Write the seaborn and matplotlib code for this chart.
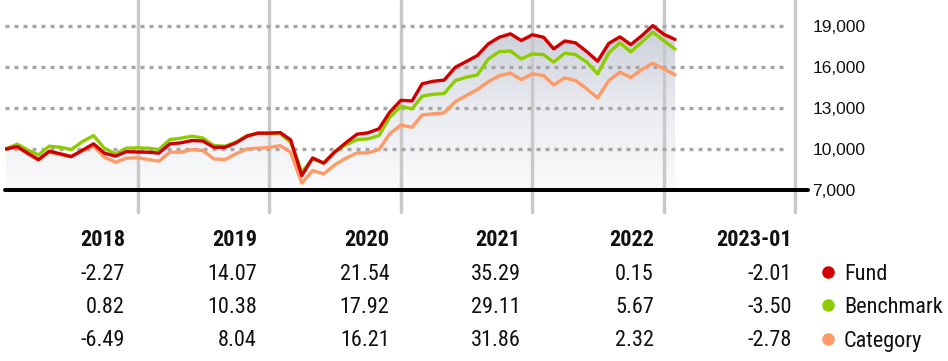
import numpy as np
import pandas as pd
import matplotlib
matplotlib.use("Agg")
import matplotlib.pyplot as plt
import matplotlib.dates as mdates
from matplotlib.lines import Line2D
from matplotlib.colors import LinearSegmentedColormap
from matplotlib import font_manager
import seaborn as sns

# ---------------- data ----------------
dates = pd.date_range("2018-01-01", periods=62, freq="MS") - pd.Timedelta(days=1)

fund = [10000, 10170, 9710, 9220, 9830, 9640, 9440, 9900, 10370, 9690, 9470, 9800,
        9770, 9760, 9690, 10370, 10440, 10610, 10580, 10120, 10120, 10440, 10930, 11150,
        11150, 11190, 10660, 8050, 9340, 8960, 9760, 10440, 11070, 11170, 11460, 12680,
        13550, 13500, 14750, 14940, 15020, 15960, 16370, 16810, 17670, 18150, 18400, 17910,
        18330, 18150, 17300, 17880, 17740, 17100, 16400, 17700, 18180, 17610, 18270, 19000,
        18360, 17990]

benchmark = [10000, 10350, 9940, 9560, 10200, 10120, 9950, 10530, 10970, 10050, 9640, 10050,
             10080, 10050, 9950, 10680, 10780, 10930, 10800, 10240, 10200, 10490, 10970, 11150,
             11130, 11100, 10490, 8300, 9270, 8980, 9800, 10290, 10680, 10730, 10970, 12310,
             13120, 12920, 13850, 13990, 14040, 14990, 15230, 15400, 16570, 17100, 17150, 16570,
             16940, 16880, 16330, 16990, 16880, 16330, 15480, 17010, 17750, 17080, 17810, 18520,
             17900, 17280]

category = [10000, 10130, 9660, 9180, 9760, 9580, 9430, 9850, 10200, 9390, 9030, 9320,
            9350, 9220, 9100, 9760, 9760, 9950, 9880, 9270, 9220, 9640, 10000, 10050,
            10100, 10240, 9760, 7500, 8420, 8180, 8830, 9320, 9710, 9710, 9950, 11100,
            11740, 11580, 12480, 12560, 12630, 13450, 13890, 14330, 14910, 15350, 15530, 15060,
            15480, 15350, 14670, 15180, 14990, 14380, 13720, 14990, 15600, 15210, 15800, 16260,
            15840, 15400]

y_ticks = [7000, 10000, 13000, 16000, 19000]
year_lines = ["2018-12-31", "2019-12-31", "2020-12-31", "2021-12-31", "2022-12-31", "2023-12-31"]

years = ["2018", "2019", "2020", "2021", "2022", "2023-01"]
fund_ret = [-2.27, 14.07, 21.54, 35.29, 0.15, -2.01]
bench_ret = [0.82, 10.38, 17.92, 29.11, 5.67, -3.50]
cat_ret = [-6.49, 8.04, 16.21, 31.86, 2.32, -2.78]
series_names = ["Fund", "Benchmark", "Category"]
colors = {"Fund": "#d00000", "Benchmark": "#8dcc00", "Category": "#ff9a66"}

# ---------------- fonts ----------------
available = {f.name for f in font_manager.fontManager.ttflist}
narrow = None
for cand in ["Liberation Sans Narrow", "Roboto Condensed", "Open Sans Condensed"]:
    if cand in available:
        narrow = cand
        break
narrow_kw = {"family": narrow} if narrow else {"family": "DejaVu Sans", "fontstretch": "condensed"}
tick_family = "Liberation Sans" if "Liberation Sans" in available else "DejaVu Sans"

sns.set_theme(style="white")
plt.rcParams["font.family"] = [tick_family, "DejaVu Sans"]

W, H = 948, 361
fig = plt.figure(figsize=(W / 100, H / 100), dpi=100)
ax_left, ax_right, ax_h = 5, 808, 190
ax = fig.add_axes([ax_left / W, 1 - ax_h / H, (ax_right - ax_left) / W, ax_h / H])

df = pd.DataFrame({
    "date": np.concatenate([dates, dates, dates]),
    "value": fund + benchmark + category,
    "series": ["Fund"] * 62 + ["Benchmark"] * 62 + ["Category"] * 62,
})

sns.lineplot(data=df, x="date", y="value", hue="series",
             hue_order=["Category", "Benchmark", "Fund"], palette=colors,
             linewidth=2.4, legend=False, ax=ax, zorder=3)

ymin, ymax = 7000, 7000 + ax_h / 13.7 * 1000
x0 = mdates.date2num(pd.Timestamp("2017-12-31")) - 1 / 0.3603
x1 = mdates.date2num(pd.Timestamp("2017-12-31")) + (ax_right - 6) / 0.3603

# gradient fill under fund line
coll = ax.fill_between(dates, fund, ymin, facecolor="none", edgecolor="none")
path = coll.get_paths()[0]
cmap = LinearSegmentedColormap.from_list("g", ["#fbfbfc", "#e9ebf0", "#c9cdd8"])
grad = np.linspace(1, 0, 256).reshape(-1, 1)
im = ax.imshow(grad, extent=[mdates.date2num(dates[0]), mdates.date2num(dates[-1]), ymin, 19200],
               aspect="auto", cmap=cmap, origin="upper", zorder=0.2, interpolation="bicubic")
im.set_clip_path(path, transform=ax.transData)

ax.set_xlim(x0, x1)
ax.set_ylim(ymin, ymax)

# grid
for yv in y_ticks[1:]:
    ax.axhline(yv, xmin=0, xmax=(788 - ax_left) / (ax_right - ax_left), color="#a6a6a6",
               lw=2.4, ls=(0, (1.2, 1.5)), zorder=1)
for d in year_lines:
    ax.axvline(pd.Timestamp(d), ymin=-22 / ax_h, ymax=1, color="#c9c9c9", lw=2.5,
               clip_on=False, zorder=0.8)
ax.axhline(ymin, color="black", lw=2.9, clip_on=False, zorder=4)

for s in ax.spines.values():
    s.set_visible(False)
ax.set_xticks([])
ax.set_xlabel("")
ax.set_ylabel("")
ax.yaxis.tick_right()
ax.set_yticks(y_ticks)
ax.set_yticklabels([f"{v:,}" for v in y_ticks])
ax.tick_params(axis="y", length=0, pad=3, labelsize=12.5, labelcolor="#111111")
ax.grid(False)
ax.set_facecolor("none")

# ---------------- table ----------------
col_right = [125, 257, 389.5, 520.5, 654, 791.5]
row_base = [246.5, 279.5, 313.3, 346.5]
txt_color = "#111111"
for x, yr in zip(col_right, years):
    fig.text(x / W, 1 - row_base[0] / H, yr, ha="right", va="baseline", fontsize=16,
             fontweight="bold", color=txt_color, **narrow_kw)
for r, vals in enumerate([fund_ret, bench_ret, cat_ret]):
    for x, v in zip(col_right, vals):
        fig.text(x / W, 1 - row_base[r + 1] / H, f"{v:.2f}", ha="right", va="baseline",
                 fontsize=16, color=txt_color, **narrow_kw)

for r, name in enumerate(series_names):
    yb = row_base[r + 1]
    fig.add_artist(Line2D([828 / W], [1 - (yb - 8) / H], marker="o", markersize=8,
                          color=colors[name], linestyle="none", transform=fig.transFigure))
    fig.text(844 / W, 1 - yb / H, name, ha="left", va="baseline", fontsize=16,
             color=txt_color, **narrow_kw)

fig.savefig("out.png", dpi=100)
